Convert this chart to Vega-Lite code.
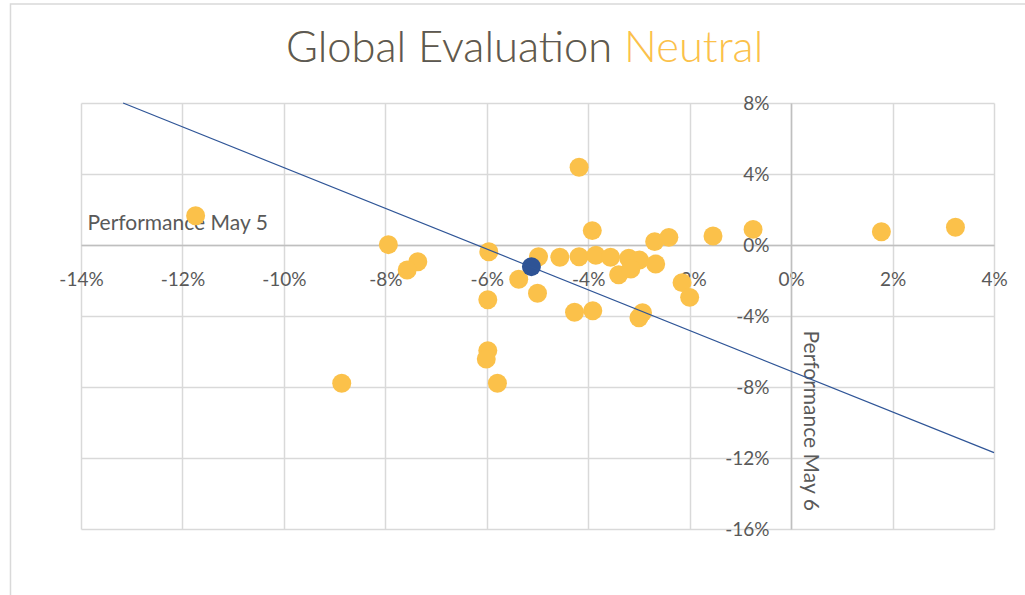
{
  "$schema": "https://vega.github.io/schema/vega-lite/v6.json",
  "width": 913,
  "height": 426,
  "autosize": "none",
  "padding": {"left": 81, "top": 103, "right": 31, "bottom": 66},
  "background": "white",
  "config": {
    "view": {"stroke": null},
    "font": "Lato"
  },
  "title": {
    "text": "Global Evaluation Neutral",
    "subtitle": "Global Evaluation",
    "font": "Lato",
    "subtitleFont": "Lato",
    "fontSize": 43.5,
    "subtitleFontSize": 43.5,
    "fontWeight": 300,
    "subtitleFontWeight": 300,
    "color": "#FBC14A",
    "subtitleColor": "#595959",
    "subtitlePadding": -43.5,
    "anchor": "start",
    "frame": "group",
    "align": "left",
    "baseline": "top",
    "dx": 205,
    "offset": -68
  },
  "datasets": {
    "points": [
      {"may5": -0.1174, "may6": 0.0165, "group": "other"},
      {"may5": -0.0794, "may6": 0.0002, "group": "other"},
      {"may5": -0.0736, "may6": -0.0094, "group": "other"},
      {"may5": -0.0757, "may6": -0.0141, "group": "other"},
      {"may5": -0.0886, "may6": -0.0779, "group": "other"},
      {"may5": -0.0418, "may6": 0.0438, "group": "other"},
      {"may5": -0.0392, "may6": 0.0081, "group": "other"},
      {"may5": -0.0596, "may6": -0.0038, "group": "other"},
      {"may5": -0.0498, "may6": -0.0066, "group": "other"},
      {"may5": -0.0537, "may6": -0.0193, "group": "other"},
      {"may5": -0.0500, "may6": -0.0272, "group": "other"},
      {"may5": -0.0598, "may6": -0.0308, "group": "other"},
      {"may5": -0.0456, "may6": -0.0069, "group": "other"},
      {"may5": -0.0418, "may6": -0.0066, "group": "other"},
      {"may5": -0.0385, "may6": -0.0058, "group": "other"},
      {"may5": -0.0356, "may6": -0.0069, "group": "other"},
      {"may5": -0.0340, "may6": -0.0168, "group": "other"},
      {"may5": -0.0320, "may6": -0.0075, "group": "other"},
      {"may5": -0.0299, "may6": -0.0085, "group": "other"},
      {"may5": -0.0316, "may6": -0.0135, "group": "other"},
      {"may5": -0.0267, "may6": -0.0107, "group": "other"},
      {"may5": -0.0269, "may6": 0.0019, "group": "other"},
      {"may5": -0.0241, "may6": 0.0043, "group": "other"},
      {"may5": -0.0154, "may6": 0.0051, "group": "other"},
      {"may5": -0.0215, "may6": -0.0212, "group": "other"},
      {"may5": -0.0200, "may6": -0.0295, "group": "other"},
      {"may5": -0.0427, "may6": -0.0379, "group": "other"},
      {"may5": -0.0391, "may6": -0.0370, "group": "other"},
      {"may5": -0.0300, "may6": -0.0410, "group": "other"},
      {"may5": -0.0293, "may6": -0.0381, "group": "other"},
      {"may5": -0.0598, "may6": -0.0595, "group": "other"},
      {"may5": -0.0601, "may6": -0.0642, "group": "other"},
      {"may5": -0.0579, "may6": -0.0779, "group": "other"},
      {"may5": -0.0075, "may6": 0.0088, "group": "other"},
      {"may5": 0.0178, "may6": 0.0075, "group": "other"},
      {"may5": 0.0324, "may6": 0.0100, "group": "other"},
      {"may5": -0.0512, "may6": -0.0122, "group": "highlight"}
    ],
    "trend": [
      {"may5": -0.1317, "may6": 0.08},
      {"may5": 0.04, "may6": -0.1170}
    ],
    "frame": [
      {"frame": "chart border"}
    ]
  },
  "layer": [
    {
      "data": {"name": "frame"},
      "mark": {"type": "rect", "filled": false, "stroke": "#D9D9D9", "strokeWidth": 1.5, "clip": false},
      "encoding": {
        "x": {"datum": -0.1539, "type": "quantitative"},
        "x2": {"datum": 0.1},
        "y": {"datum": 0.1358, "type": "quantitative"},
        "y2": {"datum": -0.3}
      }
    },
    {
      "data": {"name": "points"},
      "mark": {"type": "circle", "size": 360, "opacity": 1},
      "encoding": {
        "x": {
          "field": "may5",
          "type": "quantitative",
          "scale": {"domain": [-0.14, 0.04], "nice": false, "zero": false},
          "axis": {
            "orient": "bottom",
            "offset": -284,
            "values": [-0.14, -0.12, -0.10, -0.08, -0.06, -0.04, -0.02, 0, 0.02, 0.04],
            "format": ".0%",
            "labelExpr": "replace(datum.label, '\u2212', '-')",
            "grid": true,
            "gridColor": "#D9D9D9",
            "gridWidth": 1.5,
            "domainColor": "#BFBFBF",
            "domainWidth": 1.5,
            "ticks": false,
            "tickSize": 0,
            "labelFont": "Lato",
            "labelFontSize": 19,
            "labelColor": "#595959",
            "labelPadding": 25,
            "labelBaseline": "top",
            "labelFlush": false,
            "labelOverlap": false,
            "title": "Performance May 5",
            "titleFont": "Lato",
            "titleFontSize": 21,
            "titleFontWeight": "normal",
            "titleColor": "#595959",
            "titleX": 6,
            "titleY": -16,
            "titleAlign": "left",
            "titleBaseline": "alphabetic",
            "titleAnchor": null
          }
        },
        "y": {
          "field": "may6",
          "type": "quantitative",
          "scale": {"domain": [-0.16, 0.08], "nice": false, "zero": false},
          "axis": {
            "orient": "left",
            "offset": -710,
            "values": [-0.16, -0.12, -0.08, -0.04, 0, 0.04, 0.08],
            "format": ".0%",
            "labelExpr": "replace(datum.label, '\u2212', '-')",
            "grid": true,
            "gridColor": "#D9D9D9",
            "gridWidth": 1.5,
            "domainColor": "#BFBFBF",
            "domainWidth": 1.5,
            "ticks": false,
            "tickSize": 0,
            "labelFont": "Lato",
            "labelFontSize": 19,
            "labelColor": "#595959",
            "labelPadding": 22,
            "labelFlush": false,
            "labelOverlap": false,
            "title": "Performance May 6",
            "titleFont": "Lato",
            "titleFontSize": 21,
            "titleFontWeight": "normal",
            "titleColor": "#595959",
            "titleAngle": 90,
            "titleX": 12,
            "titleY": 227,
            "titleAlign": "left",
            "titleBaseline": "alphabetic",
            "titleAnchor": null
          }
        },
        "color": {
          "field": "group",
          "type": "nominal",
          "scale": {"domain": ["other", "highlight"], "range": ["#FBC14A", "#2E5395"]},
          "legend": null
        }
      }
    },
    {
      "data": {"name": "trend"},
      "mark": {"type": "line", "color": "#2F5597", "strokeWidth": 1.2},
      "encoding": {
        "x": {"field": "may5", "type": "quantitative"},
        "y": {"field": "may6", "type": "quantitative"}
      }
    }
  ]
}
